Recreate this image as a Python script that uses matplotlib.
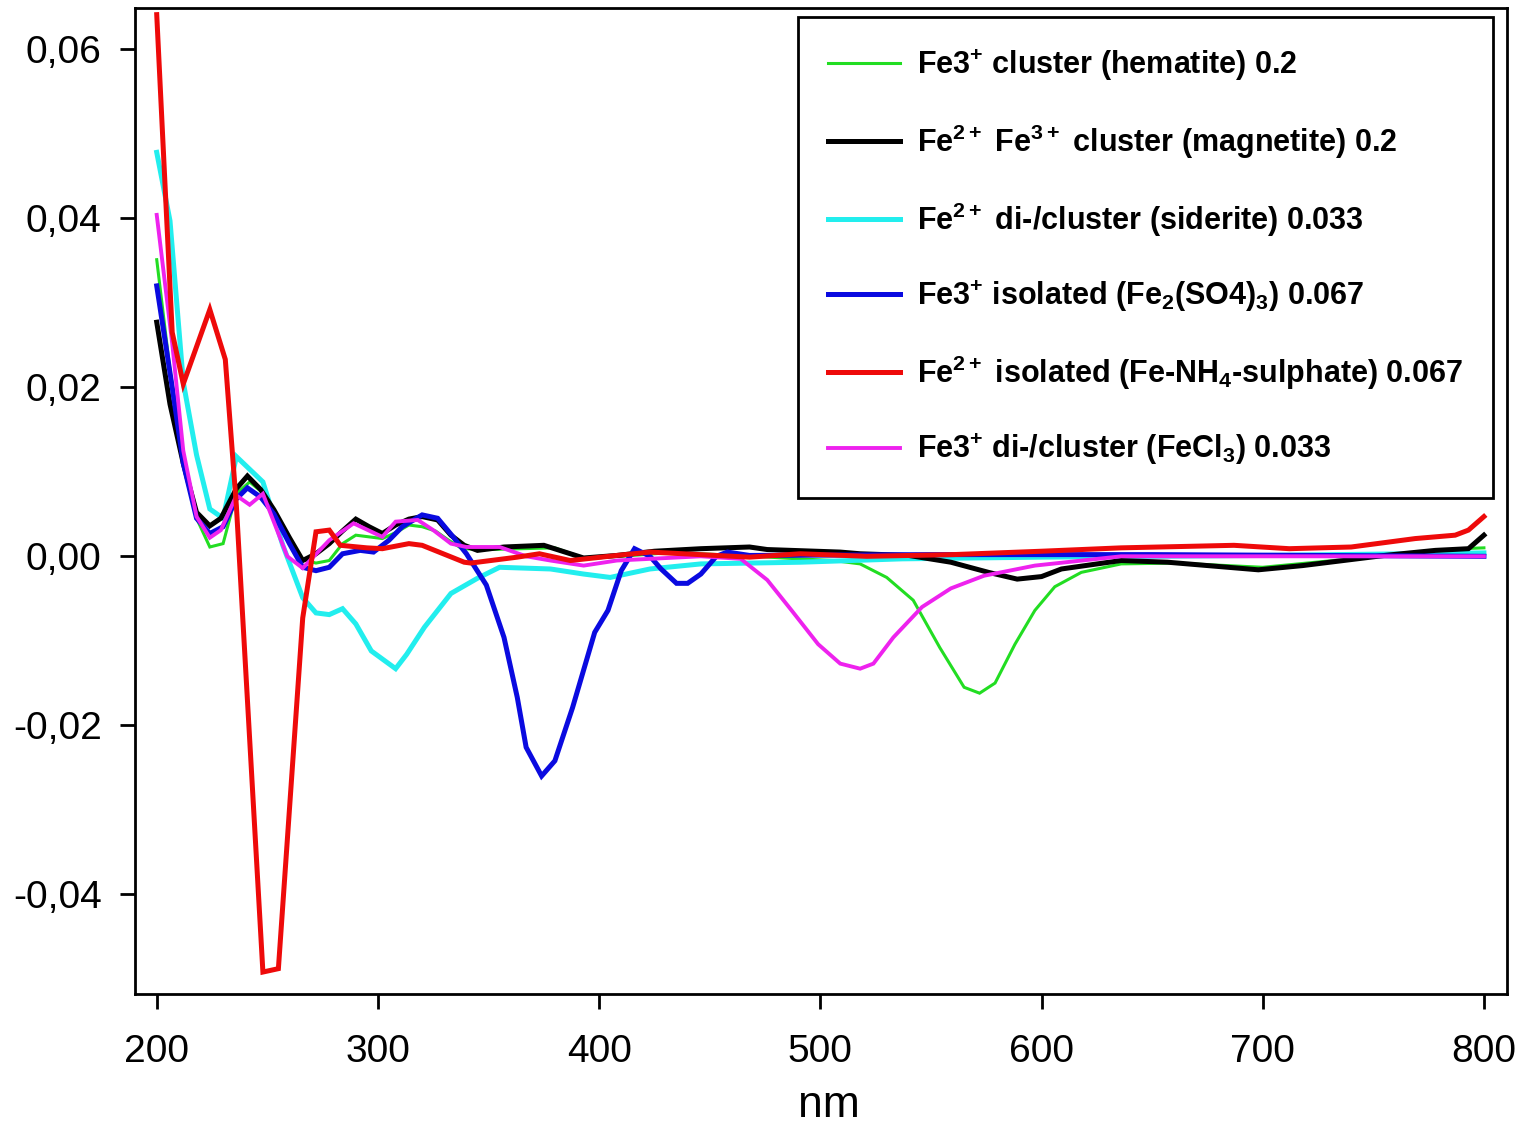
import matplotlib
matplotlib.use("Agg")
import matplotlib.pyplot as plt
from matplotlib import font_manager
from matplotlib.ticker import FuncFormatter

# wavelength (nm) / signal pairs for each reference compound
hem_x = [200, 206, 212, 218, 224, 230, 236, 242, 248, 254, 260, 266, 272, 278, 284, 290, 296, 302, 308, 314,
         320, 326, 332, 338, 350, 365, 380, 393, 410, 430, 446, 470, 490, 506, 518, 530, 542, 554, 565, 572,
         579, 588, 597, 606, 618, 636, 660, 700, 740, 770, 790, 800]
hem_y = [0.0351, 0.022, 0.012, 0.0045, 0.0011, 0.0015, 0.0074, 0.0088, 0.0075, 0.005, 0.0018, -0.0004,
         -0.0008, -0.0005, 0.0015, 0.0025, 0.0023, 0.0021, 0.0028, 0.0037, 0.0035, 0.0030, 0.0019, 0.0009,
         0.0008, 0.0009, 0.0010, -0.0002, 0.0000, 0.0004, 0.0003, 0.0000, -0.0003, -0.0005, -0.0009, -0.0025,
         -0.0052, -0.0108, -0.0155, -0.0162, -0.0150, -0.0104, -0.0064, -0.0036, -0.0019, -0.0009, -0.0008,
         -0.0013, -0.0003, 0.0005, 0.0009, 0.0010]

mag_x = [200, 206, 212, 218, 224, 229, 236, 241, 247, 253, 260, 266, 272, 278, 284, 290, 296, 302, 308, 314,
         320, 327, 333, 339, 345, 357, 375, 393, 408, 425, 446, 468, 476, 509, 518, 540, 559, 576, 589, 600,
         609, 636, 657, 698, 718, 755, 778, 793, 800]
mag_y = [0.0277, 0.018, 0.011, 0.0052, 0.0036, 0.0045, 0.0080, 0.0095, 0.0079, 0.0055, 0.0022, -0.0005,
         0.0003, 0.0015, 0.0030, 0.0044, 0.0035, 0.0027, 0.0037, 0.0044, 0.0047, 0.0043, 0.0025, 0.0013,
         0.0007, 0.0011, 0.0013, -0.0002, 0.0001, 0.0006, 0.0009, 0.0011, 0.0008, 0.0005, 0.0003, 0.0001,
         -0.0007, -0.0019, -0.0027, -0.0024, -0.0015, -0.0005, -0.0007, -0.0016, -0.0011, 0.0001, 0.0007,
         0.0009, 0.0025]

sid_x = [200, 206, 212, 218, 224, 230, 236, 242, 248, 257, 266, 272, 278, 284, 290, 297, 308, 313, 321, 333,
         345, 355, 378, 393, 405, 423, 446, 491, 537, 600, 700, 800]
sid_y = [0.0478, 0.0397, 0.0206, 0.012, 0.0056, 0.0045, 0.0118, 0.0103, 0.0088, 0.0013, -0.0049, -0.0067,
         -0.0069, -0.0062, -0.0080, -0.0112, -0.0133, -0.0116, -0.0084, -0.0044, -0.0026, -0.0013, -0.0015,
         -0.0021, -0.0025, -0.0015, -0.0009, -0.0007, -0.0003, -0.0001, 0.0001, 0.0004]

sulf3_x = [200, 207, 212, 218, 224, 230, 236, 241, 247, 253, 260, 266, 272, 278, 284, 292, 298, 305, 311, 320,
           327, 334, 340, 349, 357, 363, 367, 374, 380, 388, 398, 404, 410, 416, 423, 428, 435, 440, 446, 453,
           458, 468, 550, 650, 800]
sulf3_y = [0.0320, 0.020, 0.011, 0.0045, 0.0027, 0.0035, 0.0068, 0.0081, 0.0070, 0.0050, 0.0015, -0.0013,
           -0.0017, -0.0013, 0.0003, 0.0007, 0.0005, 0.0019, 0.0035, 0.0049, 0.0045, 0.0023, 0.0003, -0.0034,
           -0.0096, -0.0167, -0.0226, -0.0260, -0.0242, -0.0179, -0.0090, -0.0064, -0.0017, 0.0009, 0.0000,
           -0.0015, -0.0032, -0.0032, -0.0021, 0.0000, 0.0005, 0.0001, 0.0002, 0.0002, 0.0000]

nh4_x = [200, 207, 212, 224, 231, 236, 248, 255, 266, 272, 278, 283, 295, 302, 314, 320, 339, 342, 363, 373,
         387, 408, 423, 468, 491, 521, 560, 600, 636, 687, 712, 740, 769, 787, 793, 800]
nh4_y = [0.0641, 0.0265, 0.0204, 0.0292, 0.0233, 0.0060, -0.0492, -0.0488, -0.0073, 0.0029, 0.0031, 0.0013,
         0.0010, 0.0009, 0.0015, 0.0013, -0.0007, -0.0008, -0.0001, 0.0003, -0.0005, 0.0001, 0.0005, -0.0001,
         0.0003, 0.0000, 0.0002, 0.0006, 0.0010, 0.0013, 0.0009, 0.0011, 0.0021, 0.0025, 0.0031, 0.0047]

fecl_x = [200, 207, 212, 218, 224, 229, 236, 242, 248, 259, 266, 278, 289, 302, 308, 318, 325, 333, 340, 355,
          367, 378, 393, 408, 423, 446, 464, 476, 487, 499, 509, 518, 524, 533, 546, 559, 574, 597, 636, 700, 800]
fecl_y = [0.0404, 0.0252, 0.0125, 0.0047, 0.0022, 0.0031, 0.0072, 0.0061, 0.0074, 0.0000, -0.0014, 0.0019,
          0.0039, 0.0023, 0.0041, 0.0043, 0.0031, 0.0015, 0.0011, 0.0011, 0.0000, -0.0005, -0.0011, -0.0005,
          -0.0003, 0.0000, -0.0003, -0.0028, -0.0064, -0.0104, -0.0127, -0.0133, -0.0127, -0.0096, -0.0060,
          -0.0038, -0.0023, -0.0011, 0.0000, 0.0000, 0.0000]

labels = [
    r"Fe3$^{+}$ cluster (hematite) 0.2",
    r"Fe$^{2+}$ Fe$^{3+}$ cluster (magnetite) 0.2",
    r"Fe$^{2+}$ di-/cluster (siderite) 0.033",
    r"Fe3$^{+}$ isolated (Fe$_2$(SO4)$_3$) 0.067",
    r"Fe$^{2+}$ isolated (Fe-NH$_4$-sulphate) 0.067",
    r"Fe3$^{+}$ di-/cluster (FeCl$_3$) 0.033",
]
colors = ["#22dd22", "#000000", "#22eeee", "#0a0ae0", "#ee0a0a", "#ee22ee"]
widths = [2.2, 3.6, 3.6, 3.6, 3.6, 2.8]

installed = {f.name for f in font_manager.fontManager.ttflist}
legend_font = "Liberation Sans Narrow" if "Liberation Sans Narrow" in installed else "Liberation Sans"

plt.rcParams["font.family"] = ["Liberation Sans", "DejaVu Sans"]
plt.rcParams["mathtext.fontset"] = "custom"
plt.rcParams["mathtext.rm"] = legend_font + ":bold"
plt.rcParams["mathtext.bf"] = legend_font + ":bold"
plt.rcParams["mathtext.default"] = "bf"

fig = plt.figure(figsize=(15.26, 11.27), dpi=100)
ax = fig.add_axes([0.0885, 0.118, 0.899, 0.875])

series = [(hem_x, hem_y), (mag_x, mag_y), (sid_x, sid_y),
          (sulf3_x, sulf3_y), (nh4_x, nh4_y), (fecl_x, fecl_y)]
zorders = [2, 3, 2, 3, 5, 4]
for (xs, ys), lab, c, lw, z in zip(series, labels, colors, widths, zorders):
    ax.plot(xs, ys, color=c, lw=lw, label=lab, zorder=z, solid_joinstyle="miter")

ax.set_xlim(190.2, 810.4)
ax.set_ylim(-0.0518, 0.0649)
ax.set_xticks([200, 300, 400, 500, 600, 700, 800])
ax.set_yticks([-0.04, -0.02, 0.0, 0.02, 0.04, 0.06])
ax.yaxis.set_major_formatter(FuncFormatter(lambda v, p: f"{v:.2f}".replace(".", ",").replace("-0,00", "0,00")))
ax.tick_params(direction="out", length=11, width=2, labelsize=28)
ax.tick_params(axis="y", pad=13)
ax.tick_params(axis="x", pad=18)
for sp in ax.spines.values():
    sp.set_linewidth(2)
ax.set_xlabel("nm", fontsize=32)
ax.xaxis.set_label_coords(0.506, -0.092)

leg = ax.legend(loc="upper right", bbox_to_anchor=(0.990, 0.991), borderaxespad=0,
                fancybox=False, framealpha=1, edgecolor="black",
                prop={"family": legend_font, "weight": "bold", "size": 22},
                handlelength=2.35, handletextpad=0.55, labelspacing=1.3,
                borderpad=1.0)
leg.get_frame().set_linewidth(2)

fig.savefig("out.png", dpi=100)
